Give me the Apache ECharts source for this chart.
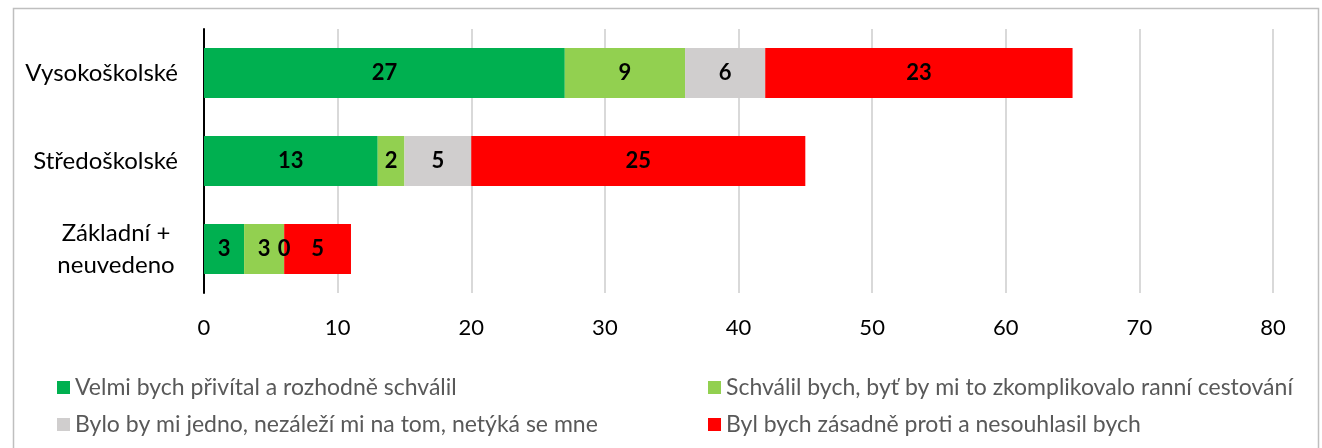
<!DOCTYPE html>
<html>
<head>
<meta charset="utf-8">
<script src="https://cdn.jsdelivr.net/npm/echarts@6/dist/echarts.min.js"></script>
<style>
  html, body { margin: 0; padding: 0; background: #fff; }
  #chart { width: 1322px; height: 448px; }
</style>
</head>
<body>
<div id="chart"></div>
<script>
// kategorie (odspodu nahoru, jak je kreslí osa y)
const categories = ['Základní +\nneuvedeno', 'Středoškolské', 'Vysokoškolské'];

// série
const seriesNames = [
  'Velmi bych přivítal a rozhodně schválil',
  'Schválil bych, byť by mi to zkomplikovalo ranní cestování',
  'Bylo by mi jedno, nezáleží mi na tom, netýká se mne',
  'Byl bych zásadně proti a nesouhlasil bych'
];
const velmi = [3, 13, 27];
const schvalil = [3, 2, 9];
const jedno = [0, 5, 6];
const proti = [5, 25, 23];
const colors = ['#00b050', '#92d050', '#d0cece', '#ff0000'];

const xTicks = { min: 0, max: 80, interval: 10 };

const font = 'Lato, "Open Sans", sans-serif';

const chart = echarts.init(document.getElementById('chart'));

const values = [velmi, schvalil, jedno, proti];

// legenda ve dvou sloupcích
function legendCol(left, names) {
  return {
    orient: 'vertical',
    left: left,
    top: 371,
    itemWidth: 13,
    itemHeight: 13,
    itemGap: 14,
    icon: 'rect',
    textStyle: { fontSize: 23, color: '#595959', fontFamily: font },
    data: names
  };
}

chart.setOption({
  animation: false,
  textStyle: { fontFamily: font },
  graphic: [{
    type: 'rect',
    left: 11, top: 6,
    shape: { width: 1305, height: 470 },
    style: { fill: 'none', stroke: '#bfbfbf', lineWidth: 1.5 },
    silent: true
  }],
  grid: { left: 204, right: 49, top: 29, bottom: 155, containLabel: false },
  legend: [
    legendCol(52, [seriesNames[0], seriesNames[2]]),
    legendCol(703, [seriesNames[1], seriesNames[3]])
  ],
  xAxis: {
    type: 'value',
    min: xTicks.min,
    max: xTicks.max,
    interval: xTicks.interval,
    axisLine: { show: false },
    axisTick: { show: false },
    axisLabel: { fontSize: 22, color: '#000', margin: 24, fontFamily: font },
    splitLine: { lineStyle: { color: '#d9d9d9', width: 2 } }
  },
  yAxis: {
    type: 'category',
    data: categories,
    axisLine: { lineStyle: { color: '#000', width: 2 } },
    axisTick: { show: false },
    axisLabel: {
      fontSize: 24, color: '#000', margin: 26, fontFamily: font,
      formatter: function (v) {
        if (v.indexOf('\n') < 0) return v;
        return v.split('\n').map(s => '{c|' + s + '}').join('\n');
      },
      rich: {
        c: { width: 124, align: 'center', fontSize: 24, lineHeight: 32, color: '#000', fontFamily: font }
      }
    }
  },
  series: seriesNames.map((name, i) => ({
    name: name,
    type: 'bar',
    stack: 'total',
    barWidth: 50,
    itemStyle: { color: colors[i] },
    label: {
      show: true,
      position: 'inside',
      color: '#000',
      fontWeight: 'bold',
      fontSize: 22,
      fontFamily: font
    },
    data: values[i]
  }))
});
</script>
</body>
</html>
